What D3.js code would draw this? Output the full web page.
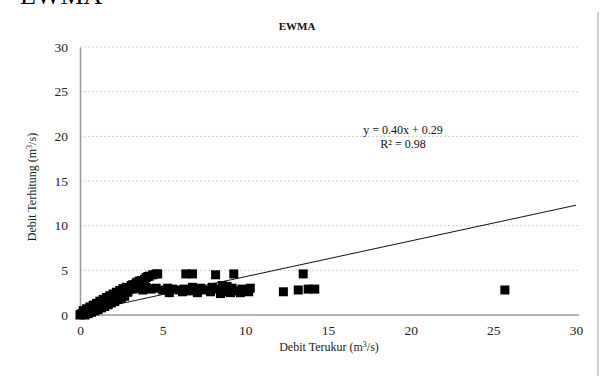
<!DOCTYPE html>
<html>
<head>
<meta charset="utf-8">
<script src="https://cdn.jsdelivr.net/npm/d3@7"></script>
<style>
  body { margin: 0; background: #fff; }
  text { font-family: "Liberation Serif", "DejaVu Serif", serif; }
</style>
</head>
<body>
<div id="mainDiv"></div>
<script>
'use strict';

var debitTerukur = [
  0, 0.05, 0.1, 0.15, 0.2, 0.3, 0.35, 0.4, 0.5, 0.6, 0.7, 0.8, 0.9, 1.0, 1.1, 1.2, 1.3,
  1.4, 1.5, 1.6, 1.7, 1.8, 1.9, 2.0, 2.1, 2.2, 2.3, 2.4, 2.5, 2.6, 2.7, 2.8, 2.9, 3.0,
  0.3, 0.5, 0.7, 0.9, 1.1, 1.3, 1.5, 1.7, 1.9, 2.1, 2.3, 2.5, 2.7,
  0.2, 0.4, 0.6, 0.8, 1.0, 1.2, 1.4, 1.6, 1.8, 2.0, 2.2, 2.4, 2.6, 2.8,
  3.1, 3.2, 3.4, 3.5, 3.6, 3.7, 3.9, 4.0, 4.1, 4.2, 4.4, 4.6, 4.7,
  3.2, 3.5, 3.8, 4.0, 4.3, 4.6, 5.0, 5.3, 5.6, 6.0, 6.3, 6.6, 7.0, 7.3, 7.6, 8.0, 8.3,
  8.6, 8.8, 9.0, 9.2, 9.5, 9.8, 10.1,
  5.4, 6.2, 7.1, 7.9, 8.5, 9.1, 9.7, 10.2, 10.3, 8.9, 6.8,
  6.4, 6.8, 8.2, 9.3, 12.3, 13.2, 13.5, 13.8, 14.2, 25.7
];
var debitTerhitung = [
  0, 0.1, 0.05, 0.2, 0.1, 0.3, 0.2, 0.45, 0.35, 0.6, 0.45, 0.8, 0.7, 1.0, 0.85, 1.15, 1.0,
  1.35, 1.2, 1.5, 1.35, 1.7, 1.55, 1.9, 1.75, 2.1, 1.95, 2.3, 2.15, 2.5, 2.35, 2.7, 2.55, 2.9,
  0.0, 0.15, 0.3, 0.45, 0.6, 0.8, 0.95, 1.15, 1.35, 1.5, 1.75, 1.9, 2.1,
  0.5, 0.7, 0.9, 1.1, 1.3, 1.55, 1.75, 1.95, 2.15, 2.35, 2.55, 2.75, 2.95, 3.1,
  3.3, 3.4, 3.6, 3.7, 3.8, 3.85, 4.0, 4.2, 4.3, 4.35, 4.5, 4.6, 4.6,
  2.9, 3.0, 2.8, 3.1, 2.9, 3.0, 2.8, 3.0, 2.9, 2.8, 2.9, 2.7, 2.8, 3.0, 2.8, 3.1, 2.9,
  3.3, 2.8, 2.6, 3.0, 2.7, 2.9, 2.7,
  2.5, 2.6, 2.5, 2.6, 2.4, 2.5, 2.5, 2.6, 3.0, 3.2, 3.1,
  4.6, 4.6, 4.5, 4.6, 2.6, 2.8, 4.6, 2.9, 2.9, 2.8
];
var xTicks = [0, 5, 10, 15, 20, 25, 30];
var yTicks = [0, 5, 10, 15, 20, 25, 30];
var trend = { slope: 0.40, intercept: 0.29, r2: 0.98 };

var width = 604, height = 376;
var margin = { left: 80, right: 28, top: 47, bottom: 61 };

var svg = d3.select('#mainDiv').append('svg')
  .attr('width', width)
  .attr('height', height);

var x = d3.scaleLinear().domain([0, 30]).range([margin.left, width - margin.right]);
var y = d3.scaleLinear().domain([0, 30]).range([height - margin.bottom, margin.top]);

// outer caption, cut by the top of the picture
svg.append('text')
  .attr('x', 20).attr('y', 4)
  .attr('font-size', 26)
  .attr('fill', '#000')
  .text('EWMA');

// chart frame, only the right side shows
svg.append('line')
  .attr('x1', 598).attr('x2', 598)
  .attr('y1', 12).attr('y2', height)
  .attr('stroke', '#9a9a9a');

// grid
svg.append('g').selectAll('line')
  .data(yTicks.filter(function(d){ return d > 0; }))
  .enter().append('line')
  .attr('x1', x(0)).attr('x2', x(30) + 4)
  .attr('y1', function(d){ return y(d); })
  .attr('y2', function(d){ return y(d); })
  .attr('stroke', '#cfcfcf')
  .attr('stroke-dasharray', '2,2');

var xAxis = d3.axisBottom(x).tickValues(xTicks).tickSize(0).tickPadding(10);
var yAxis = d3.axisLeft(y).tickValues(yTicks).tickSize(0).tickPadding(12);

var gx = svg.append('g')
  .attr('transform', 'translate(0,' + y(0) + ')')
  .call(xAxis);
var gy = svg.append('g')
  .attr('transform', 'translate(' + x(0) + ',0)')
  .call(yAxis);

[gx, gy].forEach(function(g) {
  g.attr('font-family', null);
  g.select('.domain').attr('stroke', '#9a9a9a').attr('stroke-width', 1.5);
  g.selectAll('text')
    .attr('font-size', 13.5)
    .attr('fill', '#222');
});
gx.select('.domain').attr('d', 'M' + x(0) + ',0H' + (x(30) + 3));

// trend line
svg.append('line')
  .attr('x1', x(0)).attr('y1', y(trend.intercept))
  .attr('x2', x(30)).attr('y2', y(trend.slope * 30 + trend.intercept))
  .attr('stroke', '#111')
  .attr('stroke-width', 1);

// points
var pts = debitTerukur.map(function(d, i){ return { cx: d, cy: debitTerhitung[i] }; });
svg.append('g').selectAll('rect')
  .data(pts)
  .enter().append('rect')
  .attr('x', function(d){ return x(d.cx) - 4.5; })
  .attr('y', function(d){ return y(d.cy) - 4.5; })
  .attr('width', 9).attr('height', 9)
  .attr('fill', '#000');

// titles
svg.append('text')
  .attr('x', 297).attr('y', 30)
  .attr('text-anchor', 'middle')
  .attr('font-size', 11)
  .attr('font-weight', 'bold')
  .attr('fill', '#111')
  .text('EWMA');

var eq = svg.append('text')
  .attr('text-anchor', 'middle')
  .attr('font-size', 12)
  .attr('fill', '#111');
eq.append('tspan').attr('x', 403).attr('y', 134)
  .text('y = ' + trend.slope.toFixed(2) + 'x + ' + trend.intercept.toFixed(2));
eq.append('tspan').attr('x', 403).attr('y', 148)
  .text('R² = ' + trend.r2.toFixed(2));

var xl = svg.append('text')
  .attr('x', 329).attr('y', 351)
  .attr('text-anchor', 'middle')
  .attr('font-size', 12)
  .attr('fill', '#222');
xl.append('tspan').text('Debit Terukur (m');
xl.append('tspan').attr('font-size', 8).attr('dy', -4).text('3');
xl.append('tspan').attr('dy', 4).text('/s)');

var yl = svg.append('text')
  .attr('transform', 'translate(36,187) rotate(-90)')
  .attr('text-anchor', 'middle')
  .attr('font-size', 12)
  .attr('fill', '#222');
yl.append('tspan').text('Debit Terhitung (m');
yl.append('tspan').attr('font-size', 8).attr('dy', -4).text('3');
yl.append('tspan').attr('dy', 4).text('/s)');
</script>
</body>
</html>
